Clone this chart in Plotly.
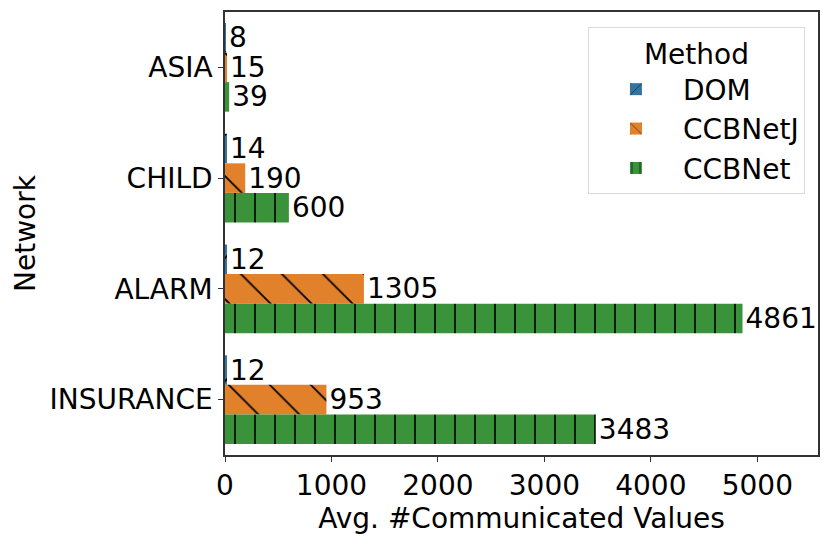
import plotly.graph_objects as go

networks = ["ASIA", "CHILD", "ALARM", "INSURANCE"]
methods = ["DOM", "CCBNetJ", "CCBNet"]
dom_vals = [8, 14, 12, 12]
ccbnetj_vals = [15, 190, 1305, 953]
ccbnet_vals = [39, 600, 4861, 3483]

colors = ["#3274a1", "#e1812c", "#3a923a"]
hatches = ["/", "\\", "|"]
pattern_sizes = [29, 29, 20]
FONT = dict(family="DejaVu Sans", size=28, color="black")


def make_bar(name, vals, color, hatch, size):
    return go.Bar(
        name=name,
        legendgroup=name,
        x=vals,
        y=networks,
        orientation="h",
        text=[str(v) for v in vals],
        textposition="outside",
        textfont=FONT,
        constraintext="none",
        cliponaxis=False,
        marker=dict(
            color=color,
            line=dict(width=0),
            pattern=dict(
                shape=hatch,
                size=size,
                solidity=0.08 if hatch == "|" else 0.06,
                fgcolor="black",
                bgcolor=color,
                fillmode="replace",
            ),
        ),
    )


fig = go.Figure(
    data=[
        make_bar(m, v, c, h, s)
        for m, v, c, h, s in zip(
            methods,
            [dom_vals, ccbnetj_vals, ccbnet_vals],
            colors,
            hatches,
            pattern_sizes,
        )
    ]
)

axis_common = dict(
    showline=True,
    linecolor="#333333",
    linewidth=1.5,
    mirror=True,
    ticks="outside",
    ticklen=5,
    tickcolor="#333333",
    showgrid=False,
    zeroline=False,
    automargin=False,
    tickfont=FONT,
    title_font=FONT,
)

# the page body keeps its 8px margin, so the figure is a bit smaller than the window
fig.update_layout(
    width=823,
    height=532,
    margin=dict(l=217, r=13, t=4, b=85),
    paper_bgcolor="white",
    plot_bgcolor="white",
    barmode="group",
    bargap=0.2,
    bargroupgap=0,
    font=FONT,
    xaxis=dict(
        range=[0, 5570],
        tickvals=[0, 1000, 2000, 3000, 4000, 5000],
        title_text="Avg. #Communicated Values",
        title_standoff=0,
        **axis_common,
    ),
    yaxis=dict(
        autorange="reversed",
        title_text="Network",
        title_standoff=6,
        **axis_common,
    ),
    legend=dict(
        title=dict(text="Method", side="top center", font=FONT),
        x=0.978,
        y=0.966,
        xanchor="right",
        yanchor="top",
        bgcolor="white",
        bordercolor="#d9d9d9",
        borderwidth=1,
        font=FONT,
        itemwidth=84,
        tracegroupgap=3,
        traceorder="normal",
    ),
)

fig.write_html("out.html")
